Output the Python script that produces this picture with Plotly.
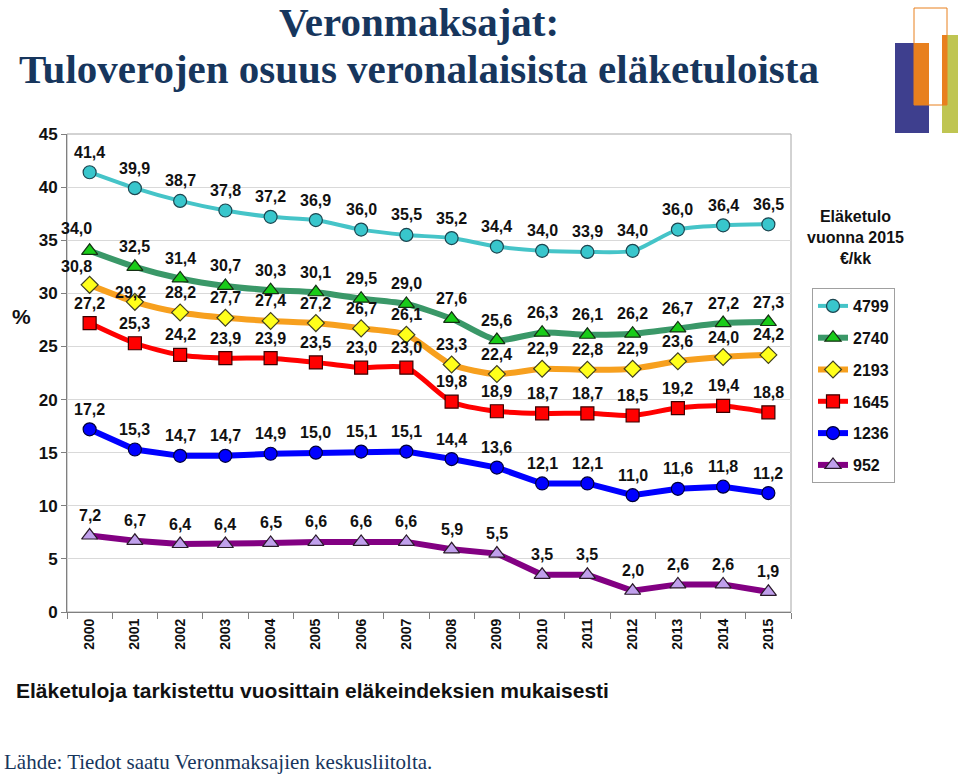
import plotly.graph_objects as go

# ---------------- data ----------------
years = ["2000", "2001", "2002", "2003", "2004", "2005", "2006", "2007",
         "2008", "2009", "2010", "2011", "2012", "2013", "2014", "2015"]

s4799 = [41.4, 39.9, 38.7, 37.8, 37.2, 36.9, 36.0, 35.5, 35.2, 34.4, 34.0, 33.9, 34.0, 36.0, 36.4, 36.5]
s2740 = [34.0, 32.5, 31.4, 30.7, 30.3, 30.1, 29.5, 29.0, 27.6, 25.6, 26.3, 26.1, 26.2, 26.7, 27.2, 27.3]
s2193 = [30.8, 29.2, 28.2, 27.7, 27.4, 27.2, 26.7, 26.1, 23.3, 22.4, 22.9, 22.8, 22.9, 23.6, 24.0, 24.2]
s1645 = [27.2, 25.3, 24.2, 23.9, 23.9, 23.5, 23.0, 23.0, 19.8, 18.9, 18.7, 18.7, 18.5, 19.2, 19.4, 18.8]
s1236 = [17.2, 15.3, 14.7, 14.7, 14.9, 15.0, 15.1, 15.1, 14.4, 13.6, 12.1, 12.1, 11.0, 11.6, 11.8, 11.2]
s952 = [7.2, 6.7, 6.4, 6.4, 6.5, 6.6, 6.6, 6.6, 5.9, 5.5, 3.5, 3.5, 2.0, 2.6, 2.6, 1.9]

series_names = ["4799", "2740", "2193", "1645", "1236", "952"]
series_values = [s4799, s2740, s2193, s1645, s1236, s952]

y_ticks = [0, 5, 10, 15, 20, 25, 30, 35, 40, 45]

title_line1 = "Veronmaksajat:"
title_line2 = "Tuloverojen osuus veronalaisista eläketuloista"
legend_heading = "Eläketulo<br>vuonna 2015<br>€/kk"
note_text = "Eläketuloja tarkistettu vuosittain eläkeindeksien mukaisesti"
source_text = "Lähde: Tiedot saatu Veronmaksajien keskusliitolta."

# ---------------- styles ----------------
styles = {
    "4799": dict(line="#45C4C8", width=4, fill="#38C6CC", outline="#1C4650", symbol="circle", size=13, shape="spline"),
    "2740": dict(line="#3A9868", width=6, fill="#19CC19", outline="#143014", symbol="triangle-up", size=14, shape="spline"),
    "2193": dict(line="#F7A01E", width=6, fill="#FFFF1A", outline="#404020", symbol="diamond", size=13, shape="spline"),
    "1645": dict(line="#FF0000", width=5, fill="#FF0000", outline="#3A0000", symbol="square", size=13, shape="spline"),
    "1236": dict(line="#0000FF", width=6, fill="#0000FF", outline="#00003A", symbol="circle", size=13, shape="linear"),
    "952": dict(line="#820082", width=6, fill="#C0A0EC", outline="#2A1A2A", symbol="triangle-up", size=14, shape="linear"),
}
# label offsets (pixels) where the default (centered, 20 px above) is not used
label_offsets = {
    ("2740", 0): (-13, 22),
    ("2193", 0): (-13, 18),
    ("2193", 1): (-4, 9),
}

FONT = "Liberation Sans, Arial, sans-serif"
SERIF = "Liberation Serif, Times New Roman, serif"
NAVY = "#17365D"

L, R, T, B = 67, 169, 134, 162
W, H = 960, 774
PW, PH = W - L - R, H - T - B


def px(x):
    return (x - L) / PW


def py(y):
    return (H - B - y) / PH


fig = go.Figure()

for name, vals in zip(series_names, series_values):
    st = styles[name]
    fig.add_trace(go.Scatter(
        x=years, y=vals, name=name, mode="lines+markers",
        legendgroup=name,
        line=dict(color=st["line"], width=st["width"], shape=st["shape"], smoothing=0.7),
        marker=dict(symbol=st["symbol"], size=st["size"], color=st["fill"],
                    line=dict(color=st["outline"], width=1.2)),
        hoverinfo="skip",
    ))

annotations = []
for name, vals in zip(series_names, series_values):
    for i, v in enumerate(vals):
        xs, ys = label_offsets.get((name, i), (0, 20))
        annotations.append(dict(
            x=i, y=v, xref="x", yref="y", showarrow=False,
            text="<b>" + f"{v:.1f}".replace(".", ",") + "</b>",
            xshift=xs, yshift=ys,
            font=dict(family=FONT, size=16, color="#111111"),
        ))

# titles and texts
annotations += [
    dict(x=px(419), y=py(22), xref="paper", yref="paper", showarrow=False,
         text="<b>" + title_line1 + "</b>", xanchor="center", yanchor="middle",
         font=dict(family=SERIF, size=41, color=NAVY)),
    dict(x=px(419), y=py(69), xref="paper", yref="paper", showarrow=False,
         text="<b>" + title_line2 + "</b>", xanchor="center", yanchor="middle",
         font=dict(family=SERIF, size=41, color=NAVY)),
    dict(x=px(855), y=py(237), xref="paper", yref="paper", showarrow=False,
         text="<b>" + legend_heading + "</b>", xanchor="center", yanchor="middle", align="center",
         font=dict(family=FONT, size=16, color="#111111")),
    dict(x=px(21), y=py(316), xref="paper", yref="paper", showarrow=False,
         text="<b>%</b>", xanchor="center", yanchor="middle",
         font=dict(family=FONT, size=21, color="#111111")),
    dict(x=px(14), y=py(690), xref="paper", yref="paper", showarrow=False,
         text="<b>" + note_text + "</b>", xanchor="left", yanchor="middle",
         font=dict(family=FONT, size=21, color="#111111")),
    dict(x=px(2), y=py(762), xref="paper", yref="paper", showarrow=False,
         text=source_text, xanchor="left", yanchor="middle",
         font=dict(family=SERIF, size=21, color=NAVY)),
]

# logo decoration (top right)
ORANGE = "#E8801E"
shapes = [
    dict(type="rect", xref="paper", yref="paper", x0=px(895), x1=px(929), y0=py(133), y1=py(43),
         fillcolor="#3E3F8E", line=dict(width=0), layer="above"),
    dict(type="rect", xref="paper", yref="paper", x0=px(942), x1=px(958), y0=py(133), y1=py(35),
         fillcolor="#BFC552", line=dict(width=0), layer="above"),
    dict(type="rect", xref="paper", yref="paper", x0=px(914), x1=px(929), y0=py(105), y1=py(43),
         fillcolor=ORANGE, line=dict(width=0), layer="above"),
    dict(type="rect", xref="paper", yref="paper", x0=px(942), x1=px(947), y0=py(105), y1=py(35),
         fillcolor=ORANGE, line=dict(width=0), layer="above"),
    dict(type="rect", xref="paper", yref="paper", x0=px(914), x1=px(947), y0=py(105), y1=py(8),
         fillcolor="rgba(0,0,0,0)", line=dict(color=ORANGE, width=1), layer="above"),
    # plot area frame (top / right)
    dict(type="rect", xref="paper", yref="paper", x0=0, x1=1, y0=0, y1=1,
         fillcolor="rgba(0,0,0,0)", line=dict(color="#A6A6A6", width=1), layer="below"),
]

fig.update_layout(
    width=W, height=H,
    margin=dict(l=L, r=R, t=T, b=B),
    paper_bgcolor="white", plot_bgcolor="white",
    showlegend=True,
    legend=dict(
        x=px(812), y=py(288), xanchor="left", yanchor="top",
        bordercolor="#A0A0A0", borderwidth=1, bgcolor="white",
        font=dict(family=FONT, size=16, color="#111111", weight="bold"),
        traceorder="grouped", tracegroupgap=8, itemwidth=30,
    ),
    annotations=annotations,
    shapes=shapes,
    xaxis=dict(
        type="category", range=[-0.5, 15.5],
        tickvals=years, ticktext=["<b>" + y + "</b>" for y in years],
        showgrid=False, showline=True, linecolor="#808080", linewidth=1,
        ticks="outside", ticklen=6, tickcolor="#808080", tickson="boundaries",
        tickangle=-90,
        tickfont=dict(family=FONT, size=14, color="#111111"),
        fixedrange=True,
    ),
    yaxis=dict(
        range=[0, 45], tickvals=y_ticks, ticktext=["<b>%d</b>" % t for t in y_ticks],
        showgrid=True, gridcolor="#D9D9D9", gridwidth=1, zeroline=False,
        showline=True, linecolor="#808080", linewidth=1,
        ticks="outside", ticklen=5, tickcolor="#808080",
        tickfont=dict(family=FONT, size=17, color="#111111"),
        fixedrange=True,
    ),
)

fig.write_html("out.html", config={"displayModeBar": False},
               post_script="document.body.style.margin='0';document.body.style.padding='0';")
